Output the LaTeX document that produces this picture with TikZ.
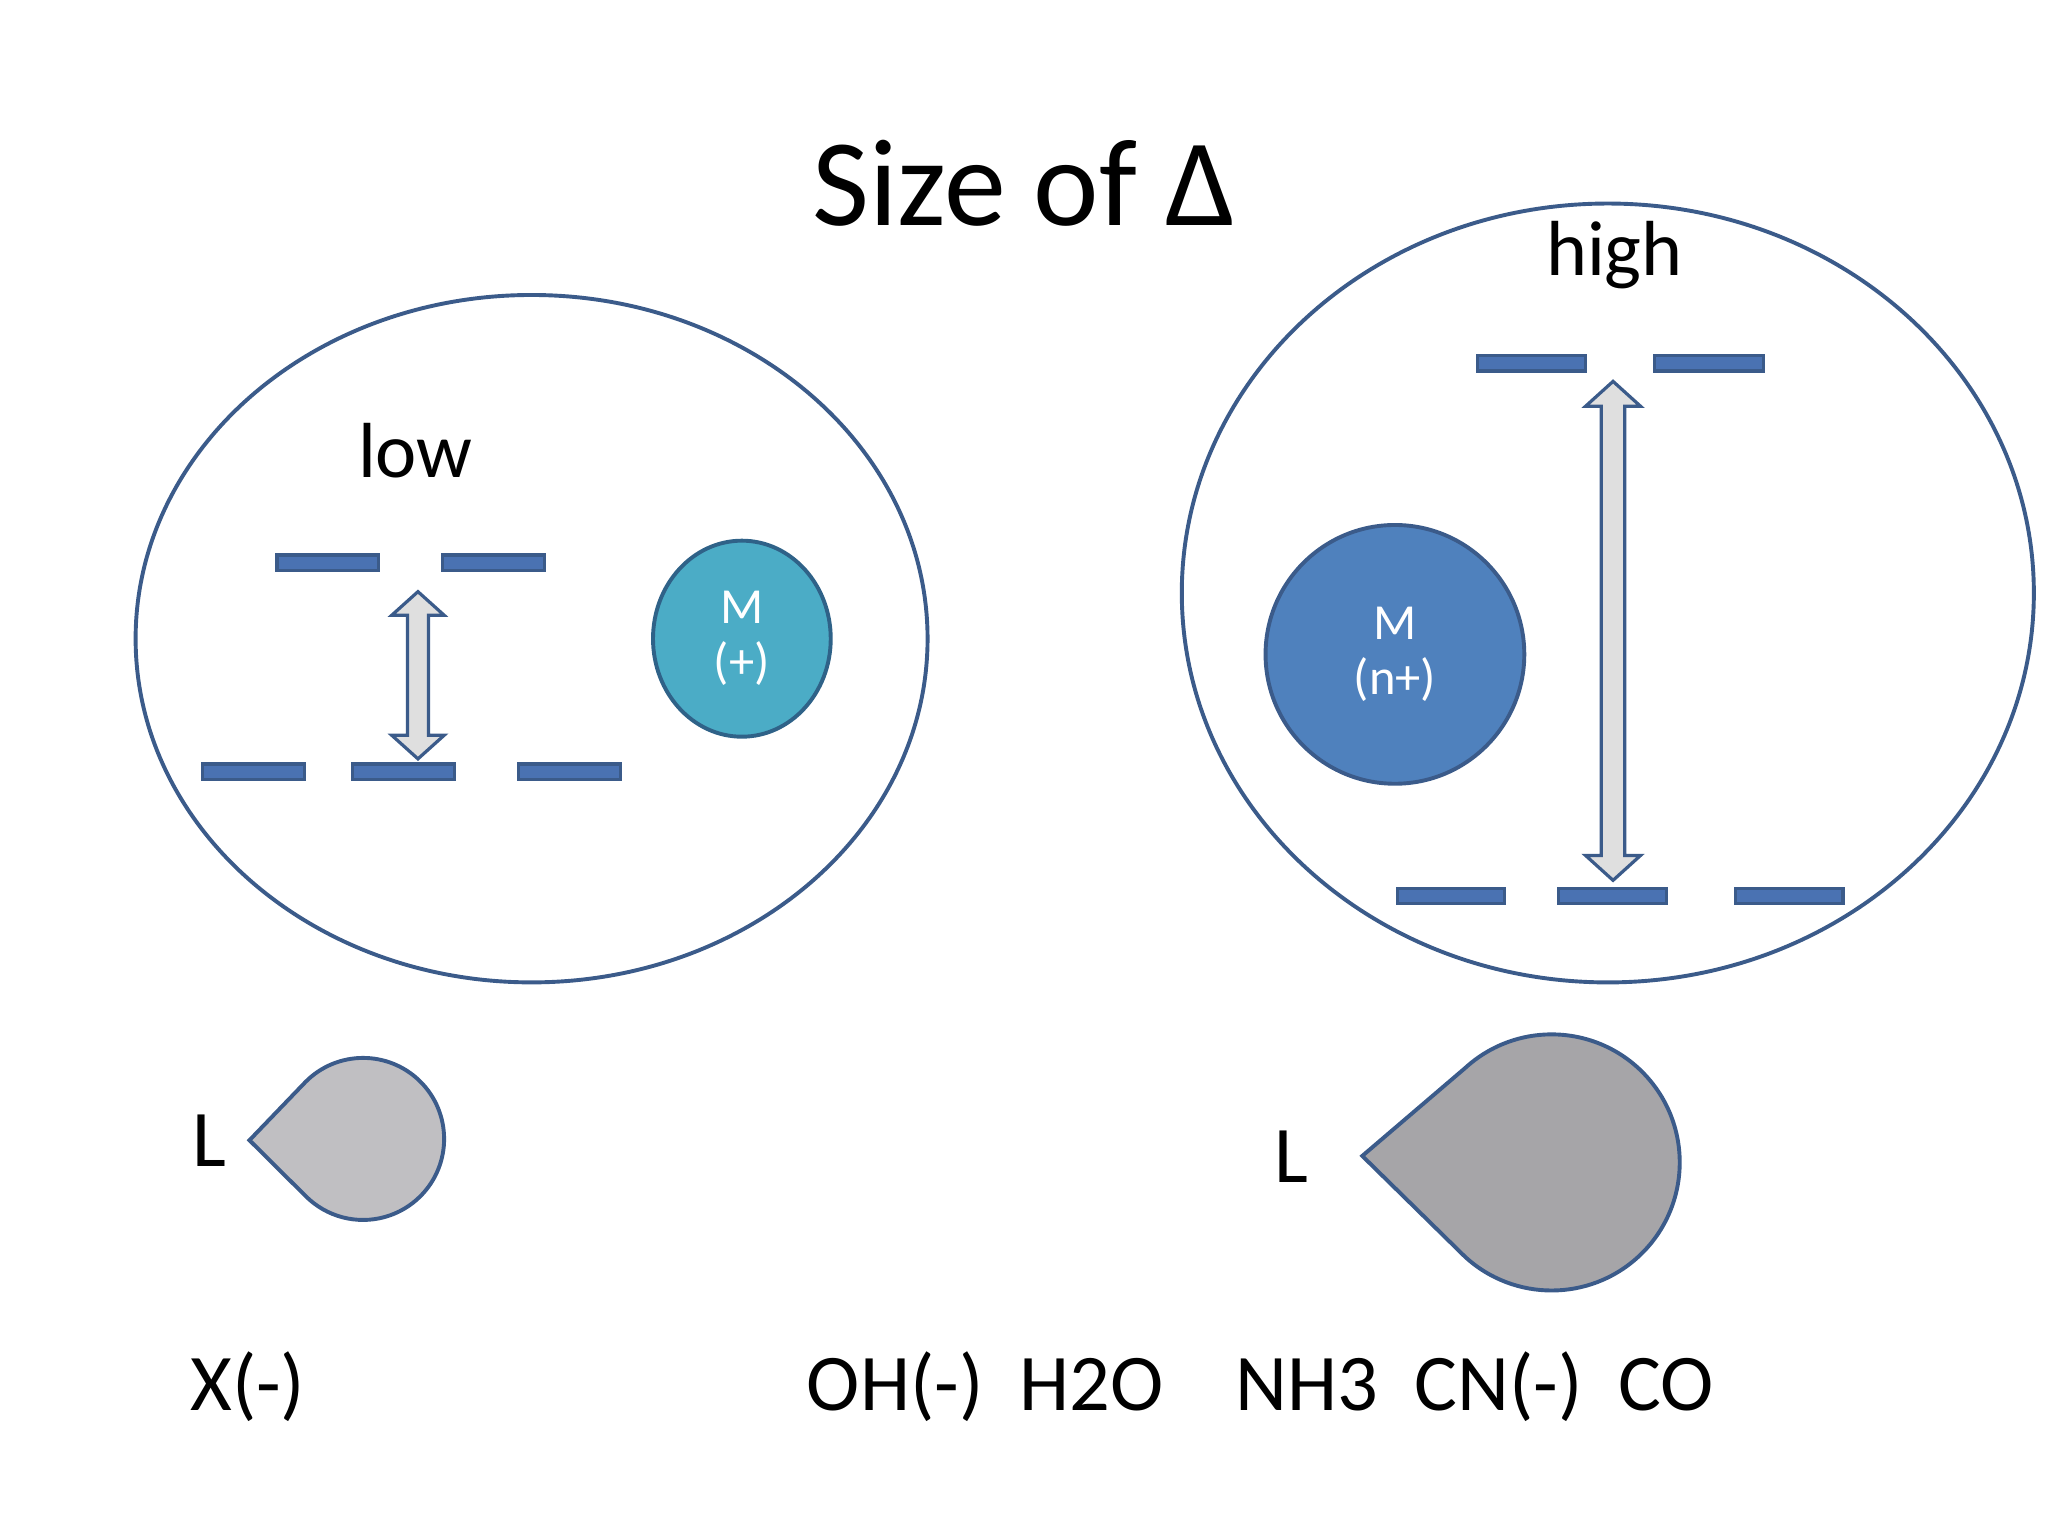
\documentclass[tikz,border=0pt]{standalone}
\usepackage{fontspec}
\setmainfont{Carlito}
\usetikzlibrary{shapes.geometric,calc}
\begin{document}
\begin{tikzpicture}[x=0.01cm,y=-0.01cm,
  ring/.style={draw=ringc,line width=0.85pt},
  bar/.style={draw=ringc,fill=barc,line width=0.7pt},
  darr/.style={draw=ringc,fill=gray!25,line width=0.7pt},
  drop/.style={draw=ringc,line width=0.85pt},
  lbl/.style={font=\fontsize{17.5}{21}\selectfont,anchor=base west,inner sep=0pt}]
\definecolor{ringc}{HTML}{3B5B8A}
\definecolor{barc}{HTML}{4A72B2}
\useasboundingbox (0,0) rectangle (1568,1176);
\node (title) at (784,140) {\fontsize{27}{32}\selectfont Size of Δ};
% left
\draw[ring] (407,489) ellipse [x radius=3.03cm,y radius=2.63cm];
\node (low) at (318,345) {\fontsize{17}{20}\selectfont low};
\foreach \a/\b/\y in {212/290/431,339/417/431,155/233/591,270/348/591,397/475/591}
  \draw[bar] (\a,\y-6) rectangle (\b,\y+6);
\draw[darr] (320,453) -- (340,471) -- (328,471) -- (328,563) -- (340,563) -- (320,581) -- (300,563) -- (312,563) -- (312,471) -- (300,471) -- cycle;
\node[draw=ringc!80!teal,fill={rgb,255:red,75;green,172;blue,198},line width=0.85pt,ellipse,minimum width=1.36cm,minimum height=1.5cm,inner sep=0pt,text=white,align=center,font=\fontsize{11}{12}\selectfont] (m1) at (568,489) {M\\(+)};
% right
\draw[ring] (1231,454) ellipse [x radius=3.26cm,y radius=2.98cm];
\node (high) at (1236,195) {\fontsize{17}{20}\selectfont high};
\foreach \a/\b/\y in {1131/1214/278,1267/1350/278,1070/1152/686,1193/1276/686,1329/1411/686}
  \draw[bar] (\a,\y-6) rectangle (\b,\y+6);
\draw[darr] (1235,292) -- (1256,311) -- (1244,311) -- (1244,655) -- (1256,655) -- (1235,674) -- (1214,655) -- (1226,655) -- (1226,311) -- (1214,311) -- cycle;
\node[draw=ringc,fill={rgb,255:red,79;green,129;blue,189},line width=0.85pt,circle,minimum size=1.98cm,inner sep=0pt,text=white,align=center,font=\fontsize{11}{12}\selectfont] (m2) at (1068,501) {M\\(n+)};
% drops
\draw[drop,fill={rgb,255:red,192;green,191;blue,194}] (191,873) -- ($(278,872)+(135.4:0.62cm)$) arc [start angle=135.4,end angle=-135.4,radius=0.62cm] -- cycle;
\draw[drop,fill={rgb,255:red,166;green,165;blue,168}] (1043,885) -- ($(1188,890)+(132.5:0.98cm)$) arc [start angle=132.5,end angle=-132.5,radius=0.98cm] -- cycle;
\node[lbl] (l1) at (147,893) {L};
\node[lbl] (l2) at (975,905) {L};
\node[lbl] (x) at (145,1080) {X(-)};
\node[lbl] (oh) at (617,1080) {OH(-)\ \ H2O};
\node[lbl] (nh) at (945,1080) {NH3\ \ CN(-)\ \ CO};
\end{tikzpicture}
\end{document}
